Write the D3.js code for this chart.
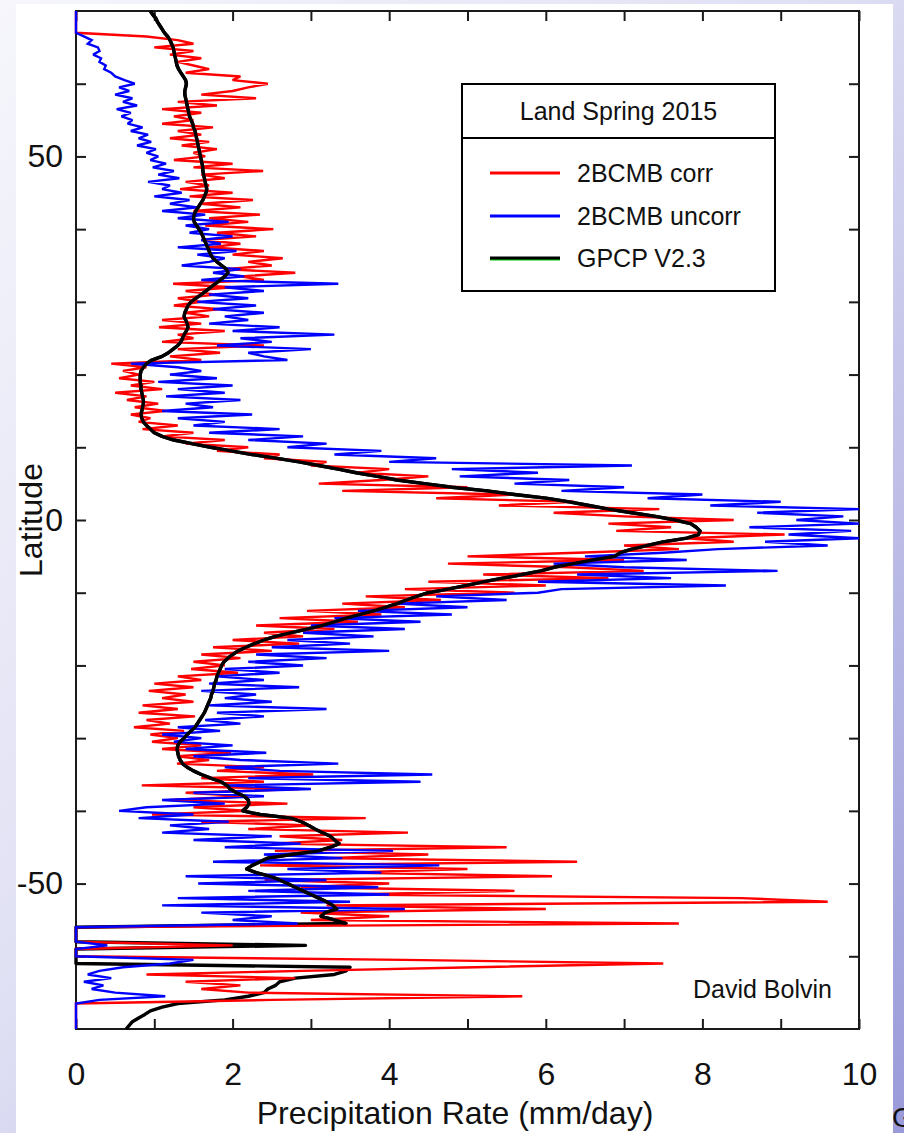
<!DOCTYPE html>
<html>
<head>
<meta charset="utf-8">
<script src="https://cdn.jsdelivr.net/npm/d3@7/dist/d3.min.js"></script>
<style>
html, body { margin: 0; padding: 0; background: #fff; }
svg { display: block; }
text { font-family: "Liberation Sans", Arial, Helvetica, sans-serif; fill: #111; }
</style>
</head>
<body>
<svg id="chart" width="904" height="1133"></svg>
<script>
// ---------------- DATA ----------------
// latitude grid (degrees), 0.5 degree steps from 70N to 70S
const latitudes = d3.range(70, -70.25, -0.5);

// 2BCMB corr (red), mm/day
const corrRate = [
  0,0,0,0,0,0,0, 0.9,1.3,1.5,1.0,1.5,1.2,1.6,1.3,1.5,1.7,1.4,2.1,2.0,
  2.45,2.2,2.0,1.6,2.3,1.3,1.8,1.1,1.6,1.25,
  1.5,1.1,1.75,1.3,1.6,1.2,1.7,1.35,1.8,1.5,
  1.65,1.25,2.0,1.5,2.39,1.6,1.9,1.4,1.7,1.33,
  2.0,1.45,2.26,1.6,2.1,1.5,2.35,1.7,2.2,1.65,
  2.52,1.8,2.3,1.6,2.1,1.7,2.4,2.0,2.64,2.2,
  2.5,1.9,2.8,2.1,2.4,1.24,2.0,1.4,1.8,1.3,
  1.6,1.25,1.84,1.4,1.7,1.1,1.6,1.06,1.9,1.3,
  1.5,1.1,2.4,1.3,1.84,1.2,1.6,0.45,0.9,0.6,
  0.8,0.55,1.0,0.7,1.1,0.5,0.9,0.65,1.05,0.75,
  1.15,0.7,0.95,0.8,1.3,0.85,1.5,1.1,1.9,1.4,
  2.2,1.8,2.6,2.4,3.2,3.0,4.0,3.6,4.5,3.9,
  3.1,5.0,3.4,5.6,4.6,6.36,5.4,7.45,6.1,7.0,
  8.4,6.8,7.6,6.9,9.05,7.8,8.4,7.0,7.7,6.4,
  5.0,7.0,4.75,6.3,7.25,5.2,6.8,4.5,6.0,4.2,
  5.6,3.7,4.66,3.4,4.2,2.95,3.9,2.6,3.6,2.3,
  3.3,2.4,2.9,2.0,2.85,1.75,2.5,1.6,2.1,1.5,
  1.9,1.47,2.07,1.3,1.6,1.0,1.5,0.93,1.4,1.1,
  1.5,0.85,1.3,0.8,1.52,0.9,1.2,0.74,1.38,0.95,
  1.3,0.97,1.6,1.1,1.98,1.3,1.7,1.29,2.4,1.8,
  3.03,1.6,2.4,0.84,2.85,1.4,2.2,1.2,2.7,1.5,
  2.2,0.97,3.7,1.6,3.0,2.2,4.24,2.6,3.4,2.5,
  5.5,2.54,4.5,3.2,6.4,2.35,5.0,3.4,6.08,2.41,
  4.0,2.87,5.6,3.5,8.5,9.6,3.2,6.0,2.87,4.0,
  3.0,7.7,
  0,0,0,0,0,2.0,0,0,0,4.2,7.5,5.1,2.9,0.9,2.8,1.4,2.1,1.6,2.2,5.7,2.5,0,0,0,0,0,0,0,0
];

// 2BCMB uncorr (blue), mm/day
const uncorrRate = [
  0,0,0,0,0,0,0, 0.1,0.2,0.15,0.28,0.3,0.22,0.32,0.3,0.38,0.36,0.45,0.5,0.62,
  0.75,0.55,0.68,0.5,0.72,0.6,0.78,0.52,0.7,0.58,
  0.72,0.66,0.85,0.7,0.92,0.8,0.96,0.78,1.02,0.9,
  1.05,0.95,1.15,0.98,1.25,1.05,1.32,0.92,1.2,1.1,
  1.35,1.0,1.45,1.2,1.55,1.1,1.65,1.3,1.95,1.4,
  1.7,1.45,2.0,1.6,1.85,1.3,2.05,1.55,1.9,1.7,
  1.35,2.1,1.75,2.15,1.6,3.35,1.9,2.4,1.7,2.2,
  1.55,2.3,1.75,2.4,1.9,2.2,1.7,2.6,2.0,3.3,
  2.1,2.5,1.8,3.0,2.2,2.4,2.7,0.7,1.3,1.6,
  1.2,1.8,1.05,2.0,1.3,1.9,1.15,2.1,1.4,1.75,
  1.1,2.25,1.3,1.9,1.5,2.6,1.7,2.9,2.2,3.2,
  2.7,3.9,3.3,4.6,4.0,7.1,4.8,5.9,4.9,6.3,
  5.6,7.0,6.2,8.0,7.3,9.0,8.1,10.0,8.7,9.8,
  9.2,10.0,8.6,9.9,9.1,10.0,8.8,9.6,8.2,7.5,
  6.5,7.8,6.1,7.0,8.96,6.4,7.6,5.9,8.3,6.2,
  5.9,4.6,5.5,4.1,5.0,3.6,4.8,3.3,4.4,3.0,
  4.2,2.9,3.8,2.7,3.5,2.5,4.0,2.3,3.2,2.2,
  2.9,1.9,2.6,1.8,2.4,1.7,2.85,1.6,2.3,1.9,
  2.5,1.7,3.2,1.8,2.4,1.65,2.1,1.3,1.84,1.1,
  1.6,1.25,2.0,1.4,2.43,1.5,2.1,3.35,1.9,2.6,
  4.55,2.2,4.4,1.9,3.0,1.5,2.4,1.1,1.9,0.9,
  0.55,1.5,0.8,1.95,1.2,1.7,1.1,2.5,1.5,2.87,
  1.9,4.05,2.4,3.4,1.75,4.64,2.7,3.9,1.4,3.2,
  1.56,3.86,2.2,4.0,1.3,3.5,1.1,4.2,1.6,2.5,
  2.0,2.83,
  0,0,0,0,0,0.4,0,0,0,1.5,1.2,0.6,0.3,0.15,0.45,0.1,0.35,0.2,0.5,1.14,0.3,0,0,0,0,0,0,0,0
];

// GPCP V2.3 (black), mm/day
const gpcpRate = [
  0.95,0.98,1.02,1.04,1.07,1.1,1.13,1.17,1.2,1.22,1.24,1.25,1.26,1.27,1.28,1.29,1.31,1.34,1.37,1.4,
  1.41,1.4,1.39,1.39,1.4,1.41,1.42,1.43,1.44,1.45,
  1.47,1.49,1.5,1.52,1.53,1.54,1.55,1.56,1.57,1.58,
  1.59,1.6,1.61,1.62,1.62,1.63,1.64,1.65,1.66,1.67,
  1.66,1.64,1.62,1.59,1.56,1.53,1.51,1.5,1.51,1.54,
  1.57,1.6,1.62,1.64,1.66,1.68,1.7,1.72,1.75,1.8,
  1.86,1.92,1.94,1.9,1.84,1.78,1.72,1.66,1.6,1.53,
  1.47,1.43,1.41,1.39,1.38,1.4,1.42,1.43,1.41,1.38,
  1.36,1.34,1.3,1.24,1.18,1.1,0.97,0.9,0.86,0.83,
  0.82,0.82,0.82,0.83,0.83,0.84,0.85,0.86,0.86,0.85,
  0.84,0.83,0.84,0.86,0.9,0.95,1.0,1.1,1.25,1.48,
  1.72,1.98,2.25,2.55,2.85,3.1,3.35,3.58,3.85,4.1,
  4.45,4.8,5.25,5.6,6.0,6.3,6.55,6.8,7.1,7.4,
  7.65,7.85,7.92,7.97,7.95,7.8,7.5,7.3,7.1,6.95,
  6.88,6.6,6.35,6.1,5.94,5.7,5.45,5.2,4.99,4.75,
  4.5,4.35,4.22,4.1,3.95,3.8,3.62,3.45,3.3,3.15,
  2.95,2.75,2.55,2.4,2.28,2.17,2.07,2.0,1.94,1.89,
  1.86,1.84,1.82,1.8,1.79,1.77,1.76,1.75,1.73,1.72,
  1.7,1.68,1.66,1.64,1.61,1.58,1.55,1.52,1.47,1.42,
  1.38,1.33,1.3,1.29,1.3,1.31,1.33,1.36,1.42,1.5,
  1.6,1.72,1.85,1.93,1.97,2.05,2.15,2.2,2.21,2.18,
  2.13,2.35,2.75,2.88,2.97,3.05,3.15,3.25,3.3,3.36,
  3.25,3.1,2.75,2.45,2.35,2.25,2.18,2.3,2.48,2.6,
  2.7,2.8,2.9,3.0,3.1,3.2,3.28,3.33,3.18,3.13,
  3.3,3.45,
  0,0,0,0,0,2.93,0,0,0,0,0,3.5,3.45,3.3,2.8,2.6,2.55,2.45,2.4,2.2,1.9,1.3,1.1,0.95,0.88,0.8,0.72,0.68,0.64
];

const xTickValues = [0,1,2,3,4,5,6,7,8,9,10];
const xTickLabels = [0,2,4,6,8,10];
const yTickValues = [-60,-50,-40,-30,-20,-10,0,10,20,30,40,50,60];
const yTickLabels = [-50,0,50];

const seriesNames = ["2BCMB corr", "2BCMB uncorr", "GPCP V2.3"];
const seriesColors = ["#ff0000", "#0000ff", "#000000"];
const legendTitle = "Land Spring 2015";
const xTitle = "Precipitation Rate (mm/day)";
const yTitle = "Latitude";
const credit = "David Bolvin";

// ---------------- DRAW ----------------
[corrRate, uncorrRate, gpcpRate].forEach((a, i) => {
  if (a.length !== latitudes.length) console.error("length mismatch", i, a.length, latitudes.length);
});

const svg = d3.select("#chart");
const W = 904, H = 1133;

// slide background
const defs = svg.append("defs");
const grad = defs.append("linearGradient").attr("id", "bg")
  .attr("x1", "0").attr("y1", "0").attr("x2", "1").attr("y2", "1");
grad.append("stop").attr("offset", "0").attr("stop-color", "#f6f6fc");
grad.append("stop").attr("offset", "0.45").attr("stop-color", "#e0e0f4");
grad.append("stop").attr("offset", "1").attr("stop-color", "#9a9ada");
svg.append("rect").attr("width", W).attr("height", H).attr("fill", "url(#bg)");
svg.append("rect").attr("x", 16).attr("y", 4).attr("width", 877).attr("height", H - 4).attr("fill", "#ffffff");

const x = d3.scaleLinear().domain([0, 10]).range([76, 859]);
const y = d3.scaleLinear().domain([-70, 70]).range([1029, 11]);

const axisColor = "#1a1a1a";
function styleAxis(g) {
  g.select(".domain").remove();
  g.selectAll(".tick line").attr("stroke", axisColor).attr("stroke-width", 2);
  g.selectAll(".tick text").attr("font-size", 32).attr("fill", "#111")
    .style("font-family", '"Liberation Sans", Arial, Helvetica, sans-serif');
}

svg.append("g").attr("transform", `translate(0,${y(-70)})`)
  .call(d3.axisBottom(x).tickValues(xTickValues).tickSizeInner(-10).tickSizeOuter(0).tickPadding(33)
    .tickFormat(d => xTickLabels.includes(d) ? String(d) : ""))
  .call(styleAxis);
svg.append("g").attr("transform", `translate(0,${y(70)})`)
  .call(d3.axisTop(x).tickValues(xTickValues).tickSizeInner(-10).tickSizeOuter(0).tickFormat(""))
  .call(styleAxis);
svg.append("g").attr("transform", `translate(${x(0)},0)`)
  .call(d3.axisLeft(y).tickValues(yTickValues).tickSizeInner(-10).tickSizeOuter(0).tickPadding(13)
    .tickFormat(d => yTickLabels.includes(d) ? String(d) : ""))
  .call(styleAxis);
svg.append("g").attr("transform", `translate(${x(10)},0)`)
  .call(d3.axisRight(y).tickValues(yTickValues).tickSizeInner(-10).tickSizeOuter(0).tickFormat(""))
  .call(styleAxis);

svg.append("rect")
  .attr("x", x(0)).attr("y", y(70))
  .attr("width", x(10) - x(0)).attr("height", y(-70) - y(70))
  .attr("fill", "none").attr("stroke", axisColor).attr("stroke-width", 2);

// data lines
const line = d3.line()
  .x(d => x(d.v))
  .y(d => y(d.lat));
const mk = arr => latitudes.map((lat, i) => ({ lat, v: arr[i] }));

// GPCP drawn once underneath (visible in the sparse far-south rows) ...
svg.append("path").datum(mk(gpcpRate))
  .attr("d", line).attr("fill", "none").attr("stroke", seriesColors[2])
  .attr("stroke-width", 3.4).attr("stroke-linejoin", "round");
svg.append("path").datum(mk(corrRate))
  .attr("d", line).attr("fill", "none").attr("stroke", seriesColors[0])
  .attr("stroke-width", 2.4).attr("stroke-linejoin", "miter").attr("stroke-miterlimit", 2);
svg.append("path").datum(mk(uncorrRate))
  .attr("d", line).attr("fill", "none").attr("stroke", seriesColors[1])
  .attr("stroke-width", 2.4).attr("stroke-linejoin", "miter").attr("stroke-miterlimit", 2);
// ... and on top of the noisy series north of the sparse rows
svg.append("path").datum(mk(gpcpRate).filter(d => d.lat >= -55.5))
  .attr("d", line).attr("fill", "none").attr("stroke", seriesColors[2])
  .attr("stroke-width", 3.4).attr("stroke-linejoin", "round");

// legend
const lg = svg.append("g");
lg.append("rect").attr("x", 462).attr("y", 84).attr("width", 313).attr("height", 207)
  .attr("fill", "#fff").attr("stroke", "#000").attr("stroke-width", 2);
lg.append("line").attr("x1", 462).attr("x2", 775).attr("y1", 138).attr("y2", 138)
  .attr("stroke", "#000").attr("stroke-width", 2);
lg.append("text").attr("x", 618.5).attr("y", 120).attr("text-anchor", "middle")
  .attr("font-size", 25).text(legendTitle);
const rowsY = [173, 216, 258];
seriesNames.forEach((name, i) => {
  if (i === 2) {
    lg.append("line").attr("x1", 490).attr("x2", 560).attr("y1", rowsY[i] + 1.8).attr("y2", rowsY[i] + 1.8)
      .attr("stroke", "#00c800").attr("stroke-width", 1.6);
  }
  lg.append("line").attr("x1", 490).attr("x2", 560).attr("y1", rowsY[i]).attr("y2", rowsY[i])
    .attr("stroke", seriesColors[i]).attr("stroke-width", i === 2 ? 3.2 : 3);
  lg.append("text").attr("x", 577).attr("y", rowsY[i] + 9).attr("font-size", 25).text(name);
});

// credit
svg.append("text").attr("x", 693).attr("y", 998).attr("font-size", 25).text(credit);

// axis titles
svg.append("text").attr("x", 455).attr("y", 1124).attr("text-anchor", "middle")
  .attr("font-size", 32).text(xTitle);
svg.append("text").attr("transform", "translate(42,520) rotate(-90)")
  .attr("text-anchor", "middle").attr("font-size", 32).text(yTitle);

// partially visible slide text at the right edge
svg.append("text").attr("x", 892).attr("y", 1127).attr("font-size", 28).attr("fill", "#333").text("G");
</script>
</body>
</html>
